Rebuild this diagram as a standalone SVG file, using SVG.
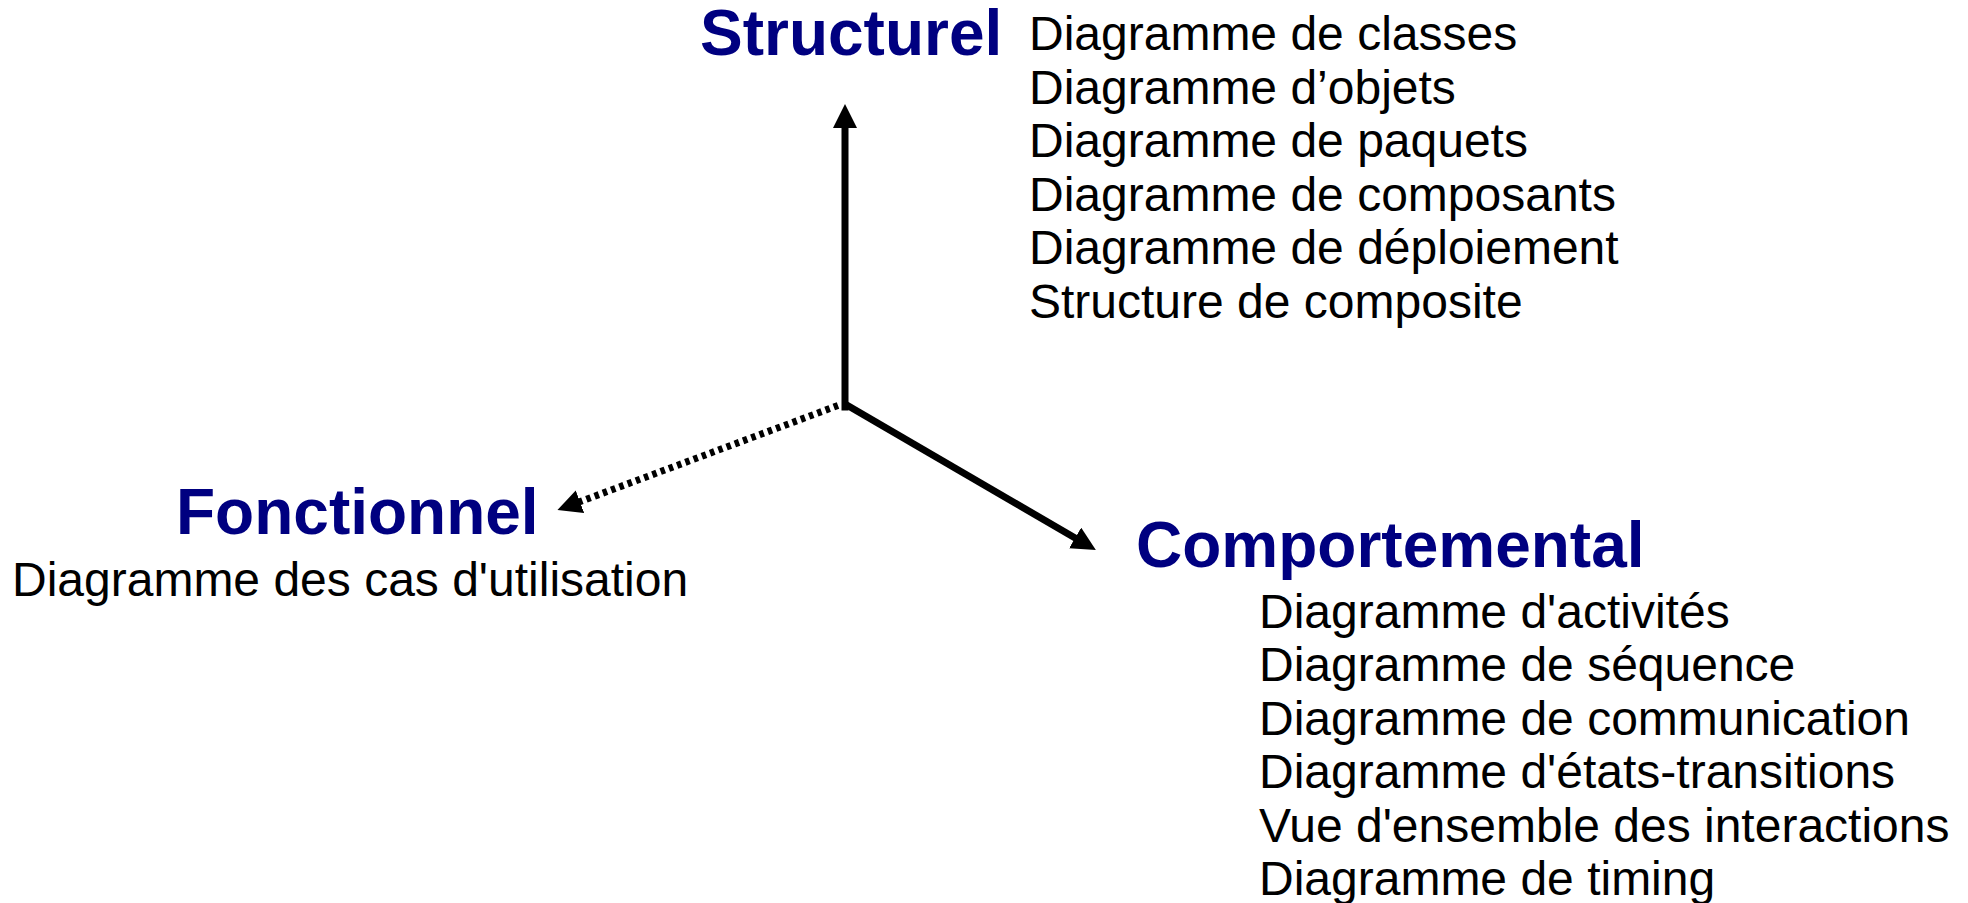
<svg xmlns="http://www.w3.org/2000/svg" width="1968" height="903" viewBox="0 0 1968 903">
  <style>
    .title { font-family: "Liberation Sans", Arial, sans-serif; font-weight: bold; font-size: 64px; fill: #000080; }
    .item { font-family: "Liberation Sans", Arial, sans-serif; font-size: 48px; fill: #000000; }
    .axis { stroke: #000000; stroke-width: 7; fill: none; }
    .dotted { stroke-dasharray: 4.5 4.3; }
  </style>
  <defs>
    <marker id="head" markerUnits="userSpaceOnUse" markerWidth="26" markerHeight="26" refX="1" refY="12" orient="auto">
      <path d="M0,0 L24,12 L0,24 Z" fill="#000000"/>
    </marker>
  </defs>
  <rect width="1968" height="903" fill="#ffffff"/>

  <g id="connectors">
    <path id="axis-structurel" class="axis" d="M845,407 L845,127" stroke-linecap="square" marker-end="url(#head)"/>
    <path id="axis-comportemental" class="axis" d="M845,404 L1076,538.5" marker-end="url(#head)"/>
    <path id="axis-fonctionnel" class="axis dotted" d="M838,405.5 L579,502" marker-end="url(#head)"/>
  </g>

  <g id="structurel">
    <text class="title" x="700" y="55">Structurel</text>
    <text class="item" x="1029" y="50">Diagramme de classes</text>
    <text class="item" x="1029" y="103.6">Diagramme d’objets</text>
    <text class="item" x="1029" y="157.2">Diagramme de paquets</text>
    <text class="item" x="1029" y="210.8">Diagramme de composants</text>
    <text class="item" x="1029" y="264.4">Diagramme de déploiement</text>
    <text class="item" x="1029" y="318">Structure de composite</text>
  </g>

  <g id="fonctionnel">
    <text class="title" x="176" y="533.5">Fonctionnel</text>
    <text class="item" x="12" y="596">Diagramme des cas d'utilisation</text>
  </g>

  <g id="comportemental">
    <text class="title" x="1136" y="567">Comportemental</text>
    <text class="item" x="1259" y="627.5">Diagramme d'activités</text>
    <text class="item" x="1259" y="681">Diagramme de séquence</text>
    <text class="item" x="1259" y="734.5">Diagramme de communication</text>
    <text class="item" x="1259" y="788">Diagramme d'états-transitions</text>
    <text class="item" x="1259" y="841.5">Vue d'ensemble des interactions</text>
    <text class="item" x="1259" y="895">Diagramme de timing</text>
  </g>
</svg>
